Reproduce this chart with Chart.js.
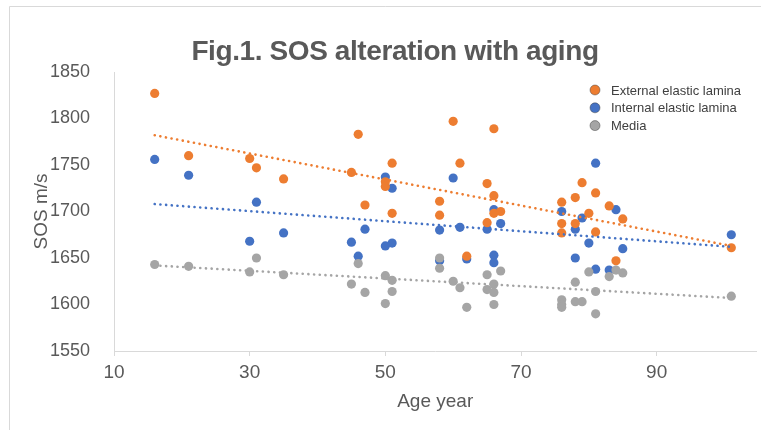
<!DOCTYPE html>
<html>
<head>
<meta charset="utf-8">
<script src="https://cdn.jsdelivr.net/npm/chart.js@4.4.1/dist/chart.umd.min.js"></script>
<style>
  html, body { margin: 0; padding: 0; background: #fff; }
  #wrap { width: 761px; height: 430px; position: relative; }
</style>
</head>
<body>
<div id="wrap"><canvas id="sosChart"></canvas></div>
<script>
// ====== DATA ======
const xTicks = [10, 30, 50, 70, 90];
const yTicks = [1550, 1600, 1650, 1700, 1750, 1800, 1850];

const extAge = [16, 21, 30, 31, 35, 45, 46, 47, 50, 50, 51, 51, 58, 58, 60, 61, 62, 65, 65, 66, 66, 66, 67, 76, 76, 76, 78, 78, 79, 80, 81, 81, 83, 84, 85, 101];
const extSos = [1827, 1760, 1757, 1747, 1735, 1742, 1783, 1707, 1732, 1727, 1752, 1698, 1711, 1696, 1797, 1752, 1652, 1730, 1688, 1789, 1717, 1698, 1700, 1710, 1687, 1677, 1715, 1687, 1731, 1698, 1720, 1678, 1706, 1647, 1692, 1661];

const intAge = [16, 21, 30, 31, 35, 45, 46, 47, 50, 50, 51, 51, 58, 58, 60, 61, 62, 65, 66, 66, 66, 67, 76, 78, 78, 79, 80, 81, 81, 83, 84, 85, 101];
const intSos = [1756, 1739, 1668, 1710, 1677, 1667, 1652, 1681, 1737, 1663, 1725, 1666, 1680, 1647, 1736, 1683, 1649, 1681, 1702, 1653, 1645, 1687, 1700, 1681, 1650, 1693, 1666, 1752, 1638, 1637, 1702, 1660, 1675];

const medAge = [16, 21, 30, 31, 35, 45, 46, 47, 50, 50, 51, 51, 58, 58, 60, 61, 62, 65, 65, 66, 66, 66, 67, 76, 76, 76, 78, 78, 79, 80, 81, 81, 83, 84, 85, 101];
const medSos = [1643, 1641, 1635, 1650, 1632, 1622, 1644, 1613, 1631, 1601, 1626, 1614, 1650, 1639, 1625, 1618, 1597, 1632, 1616, 1622, 1613, 1600, 1636, 1605, 1600, 1597, 1624, 1603, 1603, 1635, 1614, 1590, 1630, 1637, 1634, 1609];

// trendline end points
const trendAge = [16, 101];
const extTrend = [1782, 1663];
const intTrend = [1708, 1662];
const medTrend = [1642, 1607];

const seriesNames = ['External elastic lamina', 'Internal elastic lamina', 'Media'];
const seriesColors = ['#ED7D31', '#4472C4', '#A5A5A5'];

const pts = (xs, ys) => xs.map((x, i) => ({ x: x, y: ys[i] }));

function scatterSet(i, xs, ys, order) {
  return {
    type: 'scatter',
    label: seriesNames[i],
    data: pts(xs, ys),
    backgroundColor: seriesColors[i],
    borderColor: seriesColors[i],
    borderWidth: 0,
    pointRadius: 4.6,
    pointHoverRadius: 4.6,
    order: order
  };
}

function trendSet(i, ys) {
  return {
    type: 'line',
    label: seriesNames[i] + ' trend',
    data: pts(trendAge, ys),
    borderColor: seriesColors[i],
    borderWidth: 2.6,
    borderDash: [0.1, 5.6],
    borderCapStyle: 'round',
    pointRadius: 0,
    fill: false,
    order: 0
  };
}

// frame, title and legend drawn around the chart
const decor = {
  id: 'decor',
  beforeDraw(chart) {
    const ctx = chart.ctx;
    ctx.save();
    ctx.fillStyle = '#fff';
    ctx.fillRect(0, 0, chart.width, chart.height);
    ctx.strokeStyle = '#d9d9d9';
    ctx.lineWidth = 1;
    ctx.beginPath();
    ctx.moveTo(9.5, chart.height);
    ctx.lineTo(9.5, 6.5);
    ctx.lineTo(chart.width, 6.5);
    ctx.stroke();
    ctx.restore();
  },
  afterDraw(chart) {
    const ctx = chart.ctx;
    ctx.save();
    ctx.fillStyle = '#595959';
    ctx.font = 'bold 28px "Liberation Sans", Arial, sans-serif';
    ctx.letterSpacing = '-0.4px';
    ctx.textAlign = 'center';
    ctx.textBaseline = 'alphabetic';
    ctx.fillText('Fig.1. SOS alteration with aging', 395, 60);
    ctx.letterSpacing = '0px';

    ctx.font = '13px "Liberation Sans", Arial, sans-serif';
    ctx.textAlign = 'left';
    ctx.textBaseline = 'middle';
    seriesNames.forEach((name, i) => {
      const y = 90 + i * 17.8;
      ctx.beginPath();
      ctx.arc(595, y, 5, 0, Math.PI * 2);
      ctx.fillStyle = seriesColors[i];
      ctx.fill();
      ctx.strokeStyle = 'rgba(60,60,60,0.45)';
      ctx.lineWidth = 1;
      ctx.stroke();
      ctx.fillStyle = '#404040';
      ctx.fillText(name, 611, y + 1);
    });
    ctx.restore();
  }
};

new Chart(document.getElementById('sosChart'), {
  type: 'scatter',
  data: {
    datasets: [
      trendSet(0, extTrend),
      trendSet(1, intTrend),
      trendSet(2, medTrend),
      scatterSet(0, extAge, extSos, 2),
      scatterSet(1, intAge, intSos, 3),
      scatterSet(2, medAge, medSos, 1)
    ]
  },
  options: {
    responsive: true,
    maintainAspectRatio: false,
    animation: false,
    layout: { padding: { top: 72, left: 0, right: 0, bottom: 0 } },
    plugins: {
      legend: { display: false },
      tooltip: { enabled: false },
      title: { display: false }
    },
    scales: {
      x: {
        type: 'linear',
        min: 10,
        max: 104.7,
        afterBuildTicks: axis => { axis.ticks = xTicks.map(v => ({ value: v })); },
        afterFit: axis => { axis.height = 79; },
        grid: { display: true, drawOnChartArea: false, drawTicks: true, tickLength: 5, color: '#d9d9d9' },
        border: { display: true, color: '#d9d9d9', width: 1 },
        ticks: {
          font: { size: 19, family: '"Liberation Sans", Arial, sans-serif' },
          color: '#595959', padding: 5, maxRotation: 0,
          callback: v => String(v)
        },
        title: {
          display: true,
          text: 'Age year',
          color: '#595959',
          font: { size: 19, family: '"Liberation Sans", Arial, sans-serif' },
          padding: { top: 0, bottom: 17 }
        }
      },
      y: {
        type: 'linear',
        min: 1550,
        max: 1850,
        afterBuildTicks: axis => { axis.ticks = yTicks.map(v => ({ value: v })); },
        afterFit: axis => { axis.width = 114; },
        grid: { display: false },
        border: { display: true, color: '#d9d9d9', width: 1 },
        ticks: {
          font: { size: 18, family: '"Liberation Sans", Arial, sans-serif' },
          color: '#595959', padding: 16,
          callback: v => String(v)
        },
        title: {
          display: true,
          text: 'SOS m/s',
          color: '#595959',
          font: { size: 19, family: '"Liberation Sans", Arial, sans-serif' },
          padding: { top: 30, bottom: 0 }
        }
      }
    }
  },
  plugins: [decor]
});
</script>
</body>
</html>
